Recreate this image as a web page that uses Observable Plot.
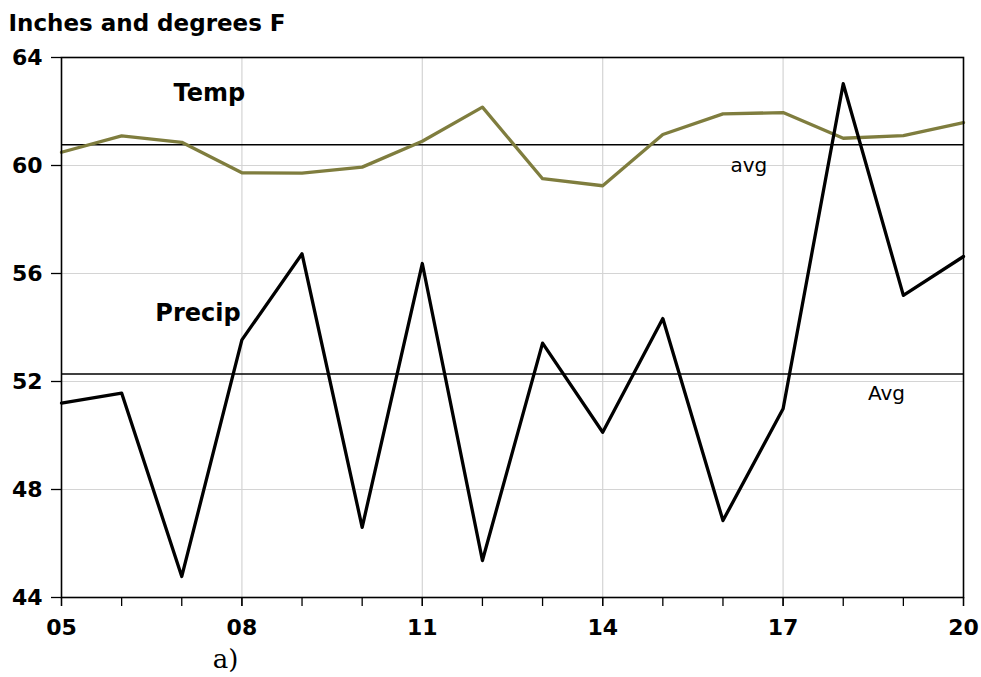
<!DOCTYPE html>
<html>
<head>
<meta charset="utf-8">
<script src="https://cdn.jsdelivr.net/npm/d3@7"></script>
<script src="https://cdn.jsdelivr.net/npm/@observablehq/plot@0.6"></script>
<style>
  html, body { margin: 0; padding: 0; background: #fff; }
  #chart { width: 981px; height: 677px; }
</style>
</head>
<body>
<div id="chart"></div>
<script>
const years = [5, 6, 7, 8, 9, 10, 11, 12, 13, 14, 15, 16, 17, 18, 19, 20];
const temp = [60.49, 61.1, 60.86, 59.73, 59.72, 59.94, 60.9, 62.16, 59.51, 59.25, 61.15, 61.91, 61.96, 61.01, 61.11, 61.59];
const precip = [51.2, 51.57, 44.78, 53.54, 56.73, 46.6, 56.37, 45.37, 53.42, 50.12, 54.33, 46.85, 50.99, 63.03, 55.19, 56.63];
const tempAvg = 60.77;
const precipAvg = 52.28;
const yTicks = [44, 48, 52, 56, 60, 64];
const xLabelTicks = [5, 8, 11, 14, 17, 20];
const yGrid = [48, 52, 56, 60];
const xGrid = [8, 11, 14, 17];
const labels = [
  {x: 7.46, y: 62.69, text: "Temp", bold: true},
  {x: 7.27, y: 54.54, text: "Precip", bold: true},
  {x: 16.43, y: 59.99, text: "avg", bold: false},
  {x: 18.72, y: 51.57, text: "Avg", bold: false}
];
const title = "Inches and degrees F";
const caption = "a)";

const tempData = years.map((x, i) => ({x, y: temp[i]}));
const precipData = years.map((x, i) => ({x, y: precip[i]}));
const fmt = d3.format("02d");
const sans = "'DejaVu Sans', Verdana, sans-serif";

const chart = Plot.plot({
  width: 981,
  height: 677,
  marginLeft: 61,
  marginRight: 18,
  marginTop: 57,
  marginBottom: 80,
  style: {fontFamily: sans, fontSize: "22px", background: "#fff", color: "#000"},
  x: {domain: [5, 20], axis: null, label: null},
  y: {domain: [44, 64], axis: null, label: null},
  marks: [
    Plot.ruleY(yGrid, {stroke: "#d4d4d4", strokeWidth: 1.2}),
    Plot.ruleX(xGrid, {stroke: "#d4d4d4", strokeWidth: 1.2}),
    Plot.ruleY([tempAvg], {stroke: "#000", strokeWidth: 1.4}),
    Plot.ruleY([precipAvg], {stroke: "#000", strokeWidth: 1.4}),
    Plot.line(tempData, {x: "x", y: "y", stroke: "#7f7d3e", strokeWidth: 3.3}),
    Plot.line(precipData, {x: "x", y: "y", stroke: "#000", strokeWidth: 3.3}),
    Plot.frame({stroke: "#000", strokeWidth: 1.6}),
    Plot.axisX(years, {tickSize: 9, tickFormat: () => "", label: null, stroke: "#000", strokeWidth: 1.3}),
    Plot.axisX(xLabelTicks, {tickSize: 9, tickFormat: fmt, tickPadding: 13, label: null, fontSize: 22, fontWeight: "bold", stroke: "#000", strokeWidth: 1.3}),
    Plot.axisY(yTicks, {tickSize: 10, tickPadding: 9, label: null, fontSize: 22, fontWeight: "bold", stroke: "#000", strokeWidth: 1.3}),
    Plot.text(labels.filter(d => d.bold), {x: "x", y: "y", text: "text", fontSize: 24, fontWeight: "bold", fill: "#000"}),
    Plot.text(labels.filter(d => !d.bold), {x: "x", y: "y", text: "text", fontSize: 20, fill: "#000"}),
    Plot.text([title], {frameAnchor: "top-left", text: d => d, dx: -53, dy: -34, lineAnchor: "middle", fontSize: 23, fontWeight: "bold", textAnchor: "start", fill: "#000"}),
    Plot.text([caption], {frameAnchor: "bottom-left", text: d => d, dx: 164, dy: 62, lineAnchor: "middle", fontSize: 26, fontFamily: "'DejaVu Serif', 'Liberation Serif', serif", textAnchor: "middle", fill: "#000"})
  ]
});
document.getElementById("chart").appendChild(chart);
</script>
</body>
</html>
